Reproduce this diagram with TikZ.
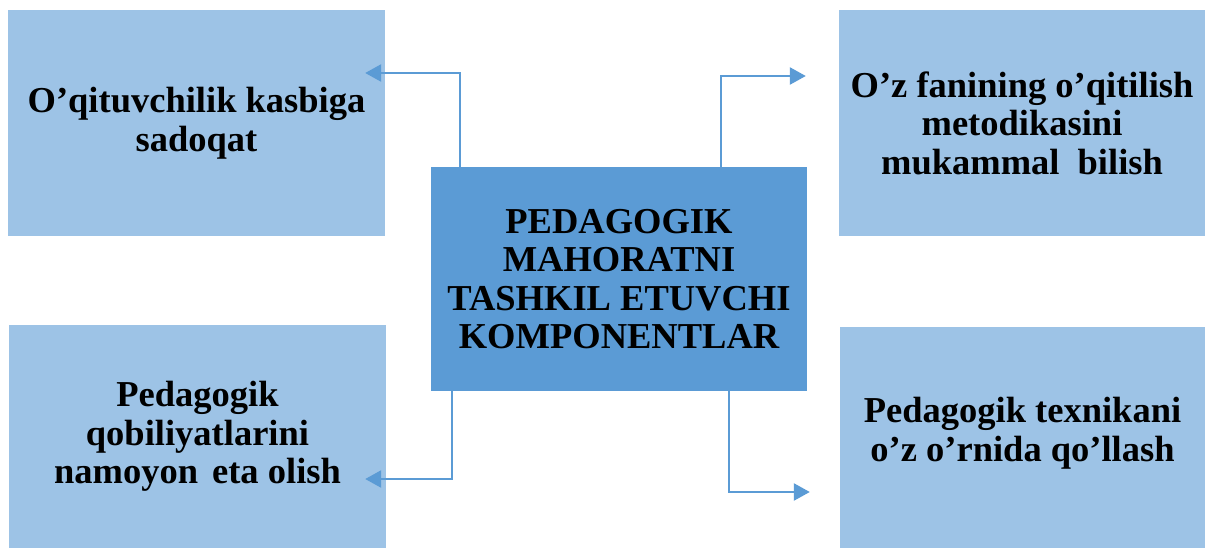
\documentclass[tikz,border=0pt]{standalone}
\usepackage{fontspec}
\setmainfont{Liberation Serif}
\usetikzlibrary{arrows.meta}
\definecolor{lightblue}{RGB}{157,195,230}
\definecolor{midblue}{RGB}{91,155,213}

\begin{document}
\begin{tikzpicture}[x=1pt,y=-1pt,
  part/.style={fill=lightblue,inner sep=0pt,align=center,
    font=\bfseries\fontsize{36.5}{38.5}\selectfont},
  core/.style={part,fill=midblue},
  link/.style={draw=midblue,line width=2.5pt,-{Triangle[length=16pt,width=17pt]}}]
\useasboundingbox (0,0) rectangle (1214,548);

\node[part,minimum width=377pt,minimum height=226pt] (duty) at (196.5,123) {O’qituvchilik kasbiga\\sadoqat};
\node[part,minimum width=366pt,minimum height=226pt] (method) at (1022,123) {O’z fanining o’qitilish\\metodikasini\\mukammal\hspace{9pt} bilish};
\node[part,minimum width=377pt,minimum height=223pt] (ability) at (197.5,436.5) {Pedagogik\\qobiliyatlarini\\namoyon\hspace{5pt} eta olish};
\node[part,minimum width=365pt,minimum height=221pt] (technique) at (1022.5,437.5) {Pedagogik texnikani\\o’z o’rnida qo’llash\\[-22.5pt]};
\node[core,minimum width=376pt,minimum height=224pt] (core) at (619,279) {PEDAGOGIK\\MAHORATNI\\TASHKIL ETUVCHI\\KOMPONENTLAR};

\draw[link] ([xshift=29pt]core.north west) |- ([xshift=-20pt,yshift=50pt]duty.east);
\draw[link] ([xshift=-86pt]core.north east) |- ([xshift=-33pt,yshift=47pt]method.west);
\draw[link] ([xshift=21pt]core.south west) |- ([xshift=-21pt,yshift=-42.5pt]ability.east);
\draw[link] ([xshift=-78pt]core.south east) |- ([xshift=-30pt,yshift=-54.5pt]technique.west);

\end{tikzpicture}
\end{document}
